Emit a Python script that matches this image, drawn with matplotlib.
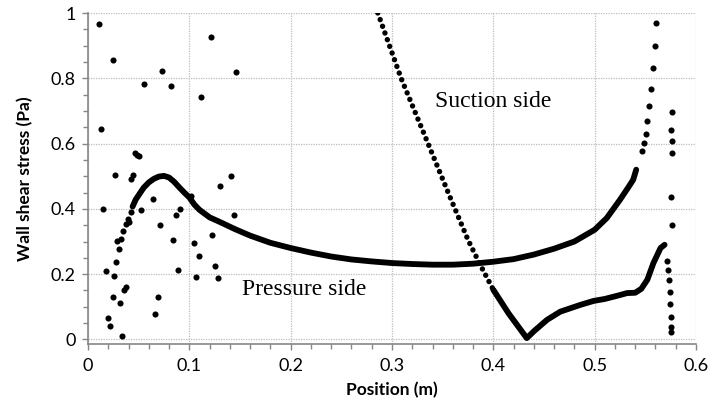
import matplotlib
matplotlib.use("Agg")
import matplotlib.pyplot as plt
from matplotlib.ticker import MultipleLocator

# noisy points near the leading edge
noise_x = [0.0109, 0.0247, 0.0132, 0.0730, 0.0550, 0.0820, 0.1210, 0.1120, 0.1460,
           0.0267, 0.0420, 0.0440, 0.0465, 0.0485, 0.0507, 0.1300, 0.1414, 0.0640,
           0.0148, 0.0527, 0.0390, 0.0400, 0.0376, 0.0708, 0.0350, 0.0290, 0.0330,
           0.0836, 0.0310, 0.0280, 0.0174, 0.0260, 0.0376, 0.0356, 0.0244, 0.0690,
           0.0316, 0.0195, 0.0666, 0.0214, 0.0340, 0.0864, 0.0910, 0.0890, 0.1020,
           0.1050, 0.1100, 0.1070, 0.1226, 0.1256, 0.1280, 0.1444, 0.0420]
noise_y = [0.966, 0.855, 0.646, 0.823, 0.782, 0.776, 0.925, 0.743, 0.820,
           0.504, 0.492, 0.505, 0.571, 0.566, 0.561, 0.469, 0.500, 0.429,
           0.400, 0.395, 0.369, 0.359, 0.353, 0.352, 0.333, 0.302, 0.307,
           0.305, 0.277, 0.238, 0.210, 0.194, 0.161, 0.151, 0.129, 0.129,
           0.112, 0.065, 0.077, 0.042, 0.009, 0.382, 0.401, 0.213, 0.440,
           0.294, 0.255, 0.190, 0.321, 0.225, 0.188, 0.380, 0.391]

# pressure side: continuous part, then sparse dots up to the trailing edge
pres_x = [0.044, 0.047, 0.050, 0.055, 0.060, 0.065, 0.070, 0.075, 0.080, 0.085,
          0.090, 0.095, 0.100, 0.105, 0.110, 0.120, 0.130, 0.145, 0.160, 0.180,
          0.200, 0.220, 0.240, 0.260, 0.280, 0.300, 0.320, 0.340, 0.360, 0.380,
          0.400, 0.420, 0.440, 0.460, 0.480, 0.500, 0.512, 0.525, 0.533, 0.538,
          0.541]
pres_y = [0.407, 0.428, 0.442, 0.465, 0.481, 0.492, 0.499, 0.501, 0.496, 0.483,
          0.466, 0.450, 0.435, 0.413, 0.397, 0.374, 0.360, 0.338, 0.318, 0.296,
          0.280, 0.266, 0.254, 0.245, 0.239, 0.234, 0.231, 0.229, 0.229, 0.232,
          0.238, 0.246, 0.260, 0.278, 0.300, 0.336, 0.372, 0.428, 0.465, 0.489,
          0.520]
pres_dots_x = [0.547, 0.549, 0.551, 0.552, 0.554, 0.556, 0.558, 0.560, 0.561,
               0.576, 0.5757, 0.576, 0.576, 0.5757, 0.576]
pres_dots_y = [0.576, 0.602, 0.630, 0.669, 0.714, 0.767, 0.830, 0.898, 0.970,
               0.696, 0.642, 0.607, 0.572, 0.436, 0.352]

# suction side: steep dotted part, continuous part, dots falling at trailing edge
suc_steep_x = [0.283, 0.286, 0.309, 0.334, 0.357, 0.375, 0.387, 0.400]
suc_steep_y = [1.020, 1.000, 0.800, 0.612, 0.438, 0.305, 0.229, 0.152]
suc_x = [0.400, 0.415, 0.433, 0.440, 0.453, 0.466, 0.486, 0.499, 0.510, 0.525,
         0.532, 0.540, 0.546, 0.552, 0.558, 0.565, 0.569]
suc_y = [0.152, 0.080, 0.004, 0.025, 0.060, 0.085, 0.106, 0.118, 0.124, 0.136,
         0.142, 0.143, 0.155, 0.183, 0.234, 0.280, 0.290]
suc_dots_x = [0.571, 0.572, 0.5737, 0.5746, 0.574, 0.575, 0.575, 0.5757]
suc_dots_y = [0.239, 0.213, 0.183, 0.144, 0.108, 0.070, 0.039, 0.024]

x_ticks = [0, 0.1, 0.2, 0.3, 0.4, 0.5, 0.6]
x_labels = ["0", "0.1", "0.2", "0.3", "0.4", "0.5", "0.6"]
y_ticks = [0, 0.2, 0.4, 0.6, 0.8, 1.0]
y_labels = ["0", "0.2", "0.4", "0.6", "0.8", "1"]

plt.rcParams['font.family'] = ['Lato', 'DejaVu Sans']

fig = plt.figure(figsize=(7.09, 4.07), dpi=100)
ax = fig.add_axes([88 / 709, 1 - 344 / 407, (696 - 88) / 709, (344 - 13) / 407])

ms = 4.4
ax.plot(noise_x, noise_y, 'o', color='black', ms=ms, mec='none')
ax.plot(pres_x, pres_y, '-', color='black', lw=4.2, solid_capstyle='round',
        solid_joinstyle='round')
ax.plot(pres_dots_x, pres_dots_y, 'o', color='black', ms=ms, mec='none')
ax.plot(suc_steep_x, suc_steep_y, color='black', lw=3.9,
        linestyle=(0, (0.01, 1.3)), dash_capstyle='round')
ax.plot(suc_x, suc_y, '-', color='black', lw=4.2, solid_capstyle='round',
        solid_joinstyle='round')
ax.plot(suc_dots_x, suc_dots_y, 'o', color='black', ms=ms, mec='none')

ax.text(0.342, 0.713, "Suction side", family='Liberation Serif', fontsize=17, va='baseline')
ax.text(0.152, 0.136, "Pressure side", family='Liberation Serif', fontsize=17, va='baseline')

ax.set_xlim(0, 0.6)
ax.set_ylim(-0.014, 1.0)
ax.set_xticks(x_ticks)
ax.set_xticklabels(x_labels)
ax.set_yticks(y_ticks)
ax.set_yticklabels(y_labels)
ax.xaxis.set_minor_locator(MultipleLocator(0.02))
ax.yaxis.set_minor_locator(MultipleLocator(0.05))

ax.grid(True, which='major', color='#bdbdbd', linestyle=(0, (1, 1)), lw=0.9)
ax.set_axisbelow(True)
for s in ['top', 'right']:
    ax.spines[s].set_visible(False)
for s in ['left', 'bottom']:
    ax.spines[s].set_color('#868686')
    ax.spines[s].set_linewidth(1.2)
ax.tick_params(which='both', colors='#868686', labelcolor='black', labelsize=13, width=1)
ax.tick_params(which='major', length=4)
ax.tick_params(which='minor', length=3.5)
ax.tick_params(axis='x', pad=6)
ax.tick_params(axis='y', pad=5)

ax.set_xlabel("Position (m)", fontsize=12.5, fontweight='bold', labelpad=6)
ax.set_ylabel("Wall shear stress (Pa)", fontsize=12.5, fontweight='bold', labelpad=12)

fig.savefig("out.png", dpi=100)
